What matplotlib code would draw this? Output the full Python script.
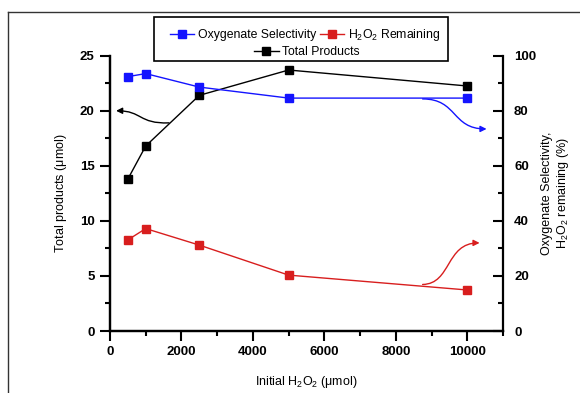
import matplotlib
matplotlib.use("Agg")
import matplotlib.pyplot as plt
from matplotlib.lines import Line2D
from matplotlib.patches import Rectangle, FancyArrowPatch
from matplotlib.path import Path
from matplotlib.ticker import MultipleLocator

plt.rcParams['font.family'] = ['Liberation Sans', 'DejaVu Sans']
plt.rcParams['mathtext.fontset'] = 'custom'
plt.rcParams['mathtext.rm'] = 'Liberation Sans'
plt.rcParams['mathtext.default'] = 'regular'

# data
h2o2_initial = [500, 1000, 2500, 5000, 10000]
total_products = [13.8, 16.8, 21.4, 23.7, 22.25]
oxy_selectivity = [92.4, 93.5, 88.6, 84.6, 84.6]
h2o2_remaining = [33.1, 37.2, 31.2, 20.3, 14.9]

blue = '#1414ff'
red = '#d81e1e'

fig = plt.figure(figsize=(5.8, 3.93), dpi=100)
ax1 = fig.add_axes([110/580, 1-331/393, 393/580, (331-55.7)/393])
ax2 = ax1.twinx()

ax1.plot(h2o2_initial, total_products, color='black', lw=1.0,
         marker='s', ms=5.5, label='Total Products')
ax2.plot(h2o2_initial, h2o2_remaining, color=red, lw=1.0,
         marker='s', ms=5.5, label='H$_2$O$_2$ Remaining')
ax2.plot(h2o2_initial, oxy_selectivity, color=blue, lw=1.0,
         marker='s', ms=5.5, label='Oxygenate Selectivity')

ax1.set_xlim(0, 11000)
ax1.set_ylim(0, 25)
ax2.set_ylim(0, 100)

ax1.xaxis.set_major_locator(MultipleLocator(2000))
ax1.xaxis.set_minor_locator(MultipleLocator(1000))
ax1.yaxis.set_major_locator(MultipleLocator(5))
ax1.yaxis.set_minor_locator(MultipleLocator(2.5))
ax2.yaxis.set_major_locator(MultipleLocator(20))
ax2.yaxis.set_minor_locator(MultipleLocator(10))

for ax in (ax1, ax2):
    ax.spines['top'].set_visible(False)
    for s in ax.spines.values():
        s.set_linewidth(1.6)
ax1.spines['right'].set_visible(False)

ax1.tick_params(which='major', direction='out', length=7, width=1.5,
                labelsize=9.5, pad=4)
ax1.tick_params(which='minor', direction='out', length=3.8, width=1.5)
ax2.tick_params(which='major', direction='in', length=7, width=1.5,
                labelsize=9.5, pad=8)
ax2.tick_params(which='minor', direction='in', length=3.8, width=1.5)
for lab in ax1.get_xticklabels() + ax1.get_yticklabels() + ax2.get_yticklabels():
    lab.set_fontweight('bold')

ax1.set_xlabel('Initial H$_2$O$_2$ ($\\mu$mol)', fontsize=9)
ax1.set_ylabel('Total products ($\\mu$mol)', fontsize=9)
ax2.set_ylabel('Oxygenate Selectivity,\nH$_2$O$_2$ remaining (%)', fontsize=9)
ax1.xaxis.set_label_coords(0.5, (331-374)/(331-55.7))
ax1.yaxis.set_label_coords((69-110)/393, 0.5)
ax2.yaxis.set_label_coords((541-110)/393, 0.5)

# curved arrows pointing to each series' axis
def s_arrow(ax, pts, color):
    path = Path(pts, [Path.MOVETO, Path.CURVE4, Path.CURVE4, Path.CURVE4])
    arr = FancyArrowPatch(path=path, arrowstyle='-|>', mutation_scale=9,
                          color=color, lw=1.0, transform=ax.transData)
    ax.add_patch(arr)

s_arrow(ax1, [(1650, 18.9), (800, 18.8), (900, 20.0), (170, 20.0)], 'black')
s_arrow(ax2, [(8750, 84.3), (9730, 84.3), (9560, 73.4), (10540, 73.4)], blue)
s_arrow(ax2, [(8750, 16.9), (9560, 17.1), (9390, 32.0), (10345, 32.0)], red)

# legend: two rows, second row centred
h_blue = Line2D([], [], color=blue, lw=1.0, marker='s', ms=5.5)
h_red = Line2D([], [], color=red, lw=1.0, marker='s', ms=5.5)
h_black = Line2D([], [], color='black', lw=1.0, marker='s', ms=5.5)
kw = dict(loc='center', frameon=False, fontsize=8.8, handlelength=2.0,
          handletextpad=0.3, columnspacing=0.3, borderpad=0)
leg1 = fig.legend([h_blue, h_red], ['Oxygenate Selectivity', 'H$_2$O$_2$ Remaining'],
                  ncol=2, bbox_to_anchor=(305/580, 1-35/393), **kw)
leg2 = fig.legend([h_black], ['Total Products'],
                  bbox_to_anchor=(307/580, 1-52/393), **kw)
fig.add_artist(Rectangle((154/580, 1-61/393), (448-154)/580, 44/393,
                         transform=fig.transFigure, fill=False,
                         edgecolor='black', lw=1.2))

# outer frame
fig.add_artist(Line2D([8/580, 1], [1-12/393, 1-12/393], transform=fig.transFigure,
                      color='#333333', lw=1.0))
fig.add_artist(Line2D([8/580, 8/580], [0, 1-12/393], transform=fig.transFigure,
                      color='#333333', lw=1.0))

fig.savefig('out.png', dpi=100)
